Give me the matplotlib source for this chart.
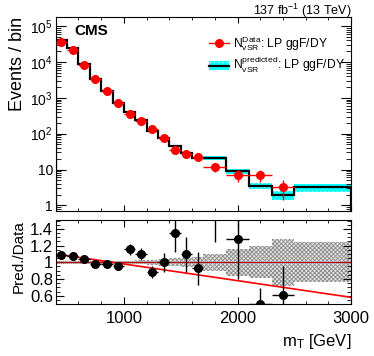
import matplotlib
matplotlib.use('Agg')
from matplotlib import pyplot as plt
from matplotlib.patches import Patch
from matplotlib.lines import Line2D
from matplotlib.ticker import FuncFormatter, MultipleLocator, LogLocator, NullFormatter
import numpy as np

plt.rcParams['font.family'] = ['Liberation Sans', 'DejaVu Sans']
plt.rcParams['mathtext.fontset'] = 'custom'
plt.rcParams['mathtext.rm'] = 'Liberation Sans'
plt.rcParams['mathtext.it'] = 'Liberation Sans:italic'
plt.rcParams['mathtext.bf'] = 'Liberation Sans:bold'
plt.rcParams['hatch.linewidth'] = 0.6

# bin edges in mT [GeV]
bin_edges = [400, 500, 600, 700, 800, 900, 1000, 1100, 1200, 1300, 1400, 1500,
             1600, 1700, 1900, 2100, 2300, 2500, 3000]
# observed events per bin (last bin empty)
data_counts = [37000, 22400, 8300, 3460, 1590, 735, 349, 219, 136, 75, 34,
               26.5, 22.6, 12, 7.1, 7.0, 3.2]
# predicted events per bin
pred_counts = [40220, 24080, 8600, 3377, 1552, 703, 403, 240, 120, 75, 46,
               29, 21, 21, 9.1, 3.5, 1.95, 3.2]
# relative uncertainty of the prediction
pred_rel_unc = [0.02, 0.02, 0.02, 0.02, 0.02, 0.02, 0.02, 0.025, 0.03, 0.04,
                0.05, 0.055, 0.06, 0.10, 0.16, 0.19, 0.28, 0.24]
# linear fit to the ratio: p0 + p1 * mT
fit_par = [1.18, -0.0002]

edges = np.array(bin_edges, dtype=float)
centers = 0.5 * (edges[1:] + edges[:-1])
halfw = 0.5 * (edges[1:] - edges[:-1])
data = np.array(data_counts)
pred = np.array(pred_counts)
unc = np.array(pred_rel_unc)
nd = len(data)

fig = plt.figure(figsize=(3.74, 3.56), dpi=100)
ax = fig.add_axes([0.149, 0.407, 0.79, 0.545])
rax = fig.add_axes([0.149, 0.146, 0.79, 0.236])

# top panel
lo = np.append(pred * (1 - unc), pred[-1] * (1 - unc[-1]))
hi = np.append(pred * (1 + unc), pred[-1] * (1 + unc[-1]))
ax.fill_between(edges, lo, hi, step='post', facecolor='#00ffff',
                edgecolor='#9ffcff', hatch='....', linewidth=0, zorder=1)
ax.stairs(pred, edges, color='black', linewidth=1.6, zorder=2)
derr = np.sqrt(data)
ax.errorbar(centers[:nd], data, xerr=halfw[:nd], yerr=derr, fmt='o',
            color='red', markersize=5.5, elinewidth=1, capsize=0, zorder=3)

ax.set_yscale('log')
ax.set_xlim(400, 3000)
ax.set_ylim(0.69, 1.8e5)

def log_fmt(v, pos):
    e = int(round(np.log10(v)))
    if e == 0:
        return '1'
    if e == 1:
        return '10'
    return r'$10^{%d}$' % e

ax.yaxis.set_major_locator(LogLocator(base=10, numticks=10))
ax.yaxis.set_minor_locator(LogLocator(base=10, subs=np.arange(2, 10), numticks=20))
ax.yaxis.set_major_formatter(FuncFormatter(log_fmt))
ax.yaxis.set_minor_formatter(NullFormatter())
ax.xaxis.set_major_locator(MultipleLocator(1000))
ax.xaxis.set_minor_locator(MultipleLocator(200))
ax.tick_params(axis='both', which='both', direction='in', top=True, right=True)
ax.tick_params(axis='y', which='major', length=7, labelsize=10, pad=2)
ax.tick_params(axis='y', which='minor', length=3.5)
ax.tick_params(axis='x', which='major', length=4, labelbottom=False)
ax.tick_params(axis='x', which='minor', length=2)
ax.set_ylabel('Events / bin', fontsize=13, loc='top')
ax.yaxis.set_label_coords(-0.1, 1.0)

ax.text(0.063, 0.965, 'CMS', transform=ax.transAxes, fontsize=11,
        fontweight='bold', va='top', ha='left')
fig.text(0.939, 0.97, r'137 fb$^{-1}$ (13 TeV)', ha='right', va='center',
         fontsize=9)

h_data = Line2D([], [], color='red', marker='o', markersize=5.5, linewidth=1)
h_band = Patch(facecolor='#00ffff', edgecolor='#9ffcff', hatch='....', linewidth=0)
h_line = Line2D([], [], color='black', linewidth=1.6)
leg = ax.legend([h_data, (h_band, h_line)],
                [r'$\mathrm{N}^{\mathrm{Data}}_{\mathrm{vSR}}$: LP ggF/DY',
                 r'$\mathrm{N}^{\mathrm{predicted}}_{\mathrm{vSR}}$: LP ggF/DY'],
                loc='upper left', bbox_to_anchor=(0.497, 0.945), frameon=False,
                fontsize=8.7, handlelength=1.7, handletextpad=0.34,
                labelspacing=0.22, borderpad=0)

# ratio panel
ratio = pred[:nd] / data
rerr = ratio / np.sqrt(data)
rlo = np.append(1 - unc, 1 - unc[-1])
rhi = np.append(1 + unc, 1 + unc[-1])
rax.fill_between(edges, rlo, rhi, step='post', facecolor='#e2e2e2',
                 edgecolor='#8c8c8c', hatch='xxxxxxxx', linewidth=0, zorder=1)
rax.axhline(1, color='#c00000', linewidth=0.8, zorder=2)
xfit = np.array([400, 3000])
rax.plot(xfit, fit_par[0] + fit_par[1] * xfit, color='red', linewidth=1.2, zorder=2)
rax.errorbar(centers[:nd], ratio, xerr=halfw[:nd], yerr=rerr, fmt='o',
             color='black', markersize=5.5, elinewidth=1, capsize=0, zorder=3)

rax.set_xlim(400, 3000)
rax.set_ylim(0.5, 1.507)
rax.xaxis.set_major_locator(MultipleLocator(1000))
rax.xaxis.set_minor_locator(MultipleLocator(200))
rax.yaxis.set_major_locator(MultipleLocator(0.2))
rax.yaxis.set_minor_locator(MultipleLocator(0.05))
rax.yaxis.set_major_formatter(FuncFormatter(lambda v, p: ('%.1f' % v).rstrip('0').rstrip('.')))
rax.tick_params(axis='both', which='both', direction='in', top=True, right=True)
rax.tick_params(axis='both', which='major', labelsize=12)
rax.tick_params(axis='y', which='major', length=6, pad=2)
rax.tick_params(axis='y', which='minor', length=3)
rax.tick_params(axis='x', which='major', length=5, pad=5)
rax.tick_params(axis='x', which='minor', length=2.5)
rax.set_ylabel('Pred./Data', fontsize=11, loc='top')
rax.yaxis.set_label_coords(-0.1, 1.0)
rax.set_xlabel(r'm$_{\mathrm{T}}$ [GeV]', fontsize=12, loc='right')

for a in (ax, rax):
    for s in a.spines.values():
        s.set_linewidth(0.8)

plt.savefig('out.png', dpi=100)
plt.close()
